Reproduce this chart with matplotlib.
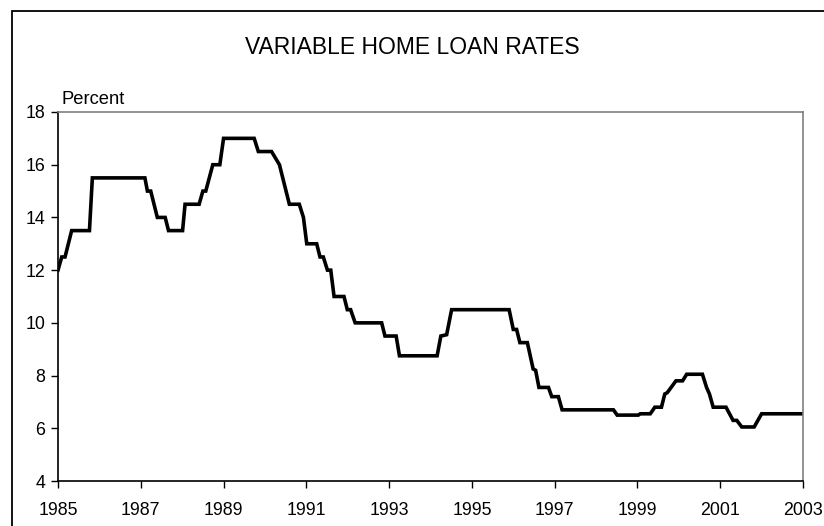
import matplotlib.pyplot as plt
from matplotlib.patches import Rectangle

plt.rcParams['font.family'] = ['Liberation Sans', 'DejaVu Sans']

# breakpoints of the rate series (year, percent)
years = [1985.00, 1985.09, 1985.17, 1985.33, 1985.76, 1985.83, 1987.10, 1987.16,
         1987.24, 1987.40, 1987.59, 1987.67, 1988.01, 1988.07, 1988.41, 1988.50,
         1988.57, 1988.74, 1988.91, 1989.00, 1989.74, 1989.84, 1990.16, 1990.35,
         1990.59, 1990.83, 1990.93, 1991.01, 1991.25, 1991.33, 1991.41, 1991.51,
         1991.59, 1991.67, 1991.91, 1991.99, 1992.07, 1992.18, 1992.82, 1992.90,
         1993.17, 1993.25, 1994.16, 1994.25, 1994.39, 1994.51, 1995.90, 1996.00,
         1996.08, 1996.16, 1996.34, 1996.48, 1996.54, 1996.62, 1996.85, 1996.93,
         1997.09, 1997.18, 1998.42, 1998.51, 1999.02, 1999.07, 1999.31, 1999.42,
         1999.58, 1999.66, 1999.72, 1999.93, 2000.09, 2000.19, 2000.57, 2000.67,
         2000.74, 2000.83, 2001.14, 2001.31, 2001.40, 2001.52, 2001.82, 2002.00,
         2003.00]
rates = [12.0, 12.5, 12.5, 13.5, 13.5, 15.5, 15.5, 15.0,
         15.0, 14.0, 14.0, 13.5, 13.5, 14.5, 14.5, 15.0,
         15.0, 16.0, 16.0, 17.0, 17.0, 16.5, 16.5, 16.0,
         14.5, 14.5, 14.0, 13.0, 13.0, 12.5, 12.5, 12.0,
         12.0, 11.0, 11.0, 10.5, 10.5, 10.0, 10.0, 9.5,
         9.5, 8.75, 8.75, 9.5, 9.55, 10.5, 10.5, 9.75,
         9.75, 9.25, 9.25, 8.25, 8.2, 7.55, 7.55, 7.2,
         7.2, 6.7, 6.7, 6.5, 6.5, 6.55, 6.55, 6.8,
         6.8, 7.3, 7.35, 7.8, 7.8, 8.05, 8.05, 7.55,
         7.3, 6.8, 6.8, 6.3, 6.3, 6.05, 6.05, 6.55,
         6.55]

xticks = list(range(1985, 2004, 2))
yticks = list(range(4, 19, 2))

fig = plt.figure(figsize=(8.24, 5.26), dpi=100)
ax = fig.add_axes([58/824, 1-481/526, (803-58)/824, (481-112)/526])

ax.plot(years, rates, color='black', lw=2.6, solid_joinstyle='miter')

ax.set_xlim(1985, 2003)
ax.set_ylim(4, 18)
ax.set_xticks(xticks)
ax.set_yticks(yticks)
ax.tick_params(direction='out', length=5, width=1, labelsize=12.8, colors='black')
ax.tick_params(axis='x', pad=10)
ax.tick_params(axis='y', pad=4)

for s in ['left', 'bottom']:
    ax.spines[s].set_color('black')
    ax.spines[s].set_linewidth(1.2)
for s in ['top', 'right']:
    ax.spines[s].set_color('#7f7f7f')
    ax.spines[s].set_linewidth(1.2)

fig.text(0.5, 1-47/526, 'VARIABLE HOME LOAN RATES', ha='center', va='center', fontsize=16.5)
fig.text(62/824, 1-100/526, 'Percent', ha='left', va='center', fontsize=13.2)

# outer frame of the figure (only left and top edges visible)
fig.patches.append(Rectangle((12/824, -0.1), 1.2, 1-11/526+0.1, transform=fig.transFigure,
                             fill=False, edgecolor='black', lw=1.3))

plt.savefig('out.png', dpi=100)
